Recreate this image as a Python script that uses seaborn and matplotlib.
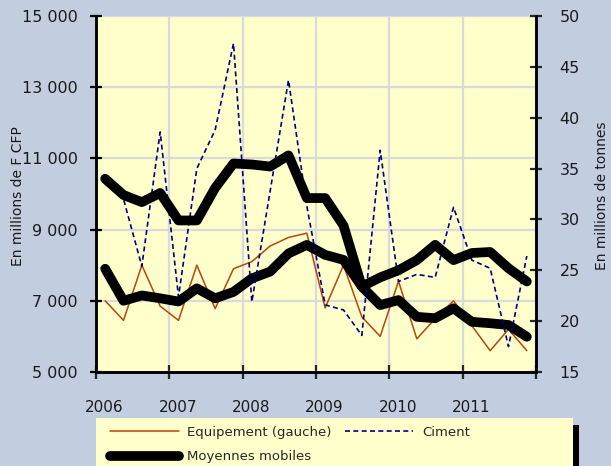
import numpy as np
import pandas as pd
import matplotlib
matplotlib.use("Agg")
import matplotlib.pyplot as plt
from matplotlib.patches import Rectangle
from matplotlib.ticker import FuncFormatter
from matplotlib.transforms import ScaledTranslation
import seaborn as sns

# quarterly points, 2006 Q1 .. 2011 Q4
quarters = [2006 + 0.125 + 0.25 * i for i in range(24)]

equipement = [7000, 6450, 8000, 6850, 6450, 8000, 6780, 7900,
              8100, 8540, 8780, 8900, 6800, 8000, 6550, 6000,
              7550, 5930, 6500, 7000, 6300, 5600, 6200, 5600]
equipement_mm = [7900, 7000, 7150, 7070, 6980, 7350, 7070, 7250,
                 7630, 7820, 8330, 8570, 8290, 8150, 7400, 6880,
                 7020, 6550, 6510, 6790, 6410, 6370, 6320, 5990]

ciment = [33.5, 32.0, 25.4, 38.6, 22.4, 35.0, 38.8, 47.3,
          21.9, 32.8, 43.7, 31.3, 21.6, 21.1, 18.6, 36.8,
          23.9, 24.6, 24.3, 31.2, 26.0, 25.2, 17.5, 26.4]
ciment_mm = [34.0, 32.4, 31.7, 32.6, 29.9, 29.9, 33.1, 35.5,
             35.4, 35.2, 36.3, 32.1, 32.1, 29.4, 23.4, 24.3,
             25.0, 26.0, 27.5, 26.0, 26.7, 26.8, 25.2, 23.9]

year_ticks = [2006, 2007, 2008, 2009, 2010, 2011, 2012]
year_labels = ["2006", "2007", "2008", "2009", "2010", "2011", ""]
left_ticks = [5000, 7000, 9000, 11000, 13000, 15000]
right_ticks = [15, 20, 25, 30, 35, 40, 45, 50]

legend_labels = ["Equipement (gauche)", "Moyennes mobiles", "Ciment"]

df = pd.DataFrame({"date": quarters, "equip": equipement, "equip_mm": equipement_mm,
                   "ciment": ciment, "ciment_mm": ciment_mm})

sns.set_style("white")
plt.rcParams["font.family"] = ["DejaVu Sans"]

BG = "#C3CDE0"
PLOT_BG = "#FFFFCC"
BROWN = "#B5460F"
NAVY = "#000080"
GRID = "#DADADA"

fig = plt.figure(figsize=(6.11, 4.66), dpi=100, facecolor=BG)
ax = fig.add_axes([96 / 611, 1 - 372 / 466, 440 / 611, 356 / 466])
ax.set_facecolor(PLOT_BG)
ax2 = ax.twinx()
ax2.patch.set_visible(False)

sns.lineplot(data=df, x="date", y="equip", ax=ax, color=BROWN, linewidth=1.1)
h_equip = ax.lines[-1]
sns.lineplot(data=df, x="date", y="equip_mm", ax=ax, color="black", linewidth=7)
h_mm = ax.lines[-1]
sns.lineplot(data=df, x="date", y="ciment", ax=ax2, color=NAVY, linewidth=1.2)
h_cim = ax2.lines[-1]
h_cim.set_dashes([3, 2])
sns.lineplot(data=df, x="date", y="ciment_mm", ax=ax2, color="black", linewidth=7)

for ln in [h_mm, ax2.lines[-1]]:
    ln.set_solid_joinstyle("round")
    ln.set_solid_capstyle("round")

ax.set_xlim(2006, 2012)
ax.set_ylim(5000, 15000)
ax2.set_ylim(15, 50)

ax.set_xticks(year_ticks)
ax.set_xticklabels(year_labels)
ax.set_yticks(left_ticks)
ax.yaxis.set_major_formatter(FuncFormatter(lambda v, p: f"{v:,.0f}".replace(",", " ")))
ax2.set_yticks(right_ticks)

ax.grid(True, color=GRID, linewidth=1.6)
ax.set_axisbelow(True)
ax.set_xlabel("")
ax.set_ylabel("")
ax2.set_ylabel("")

for a in [ax, ax2]:
    a.spines["top"].set_visible(False)
    for side in ["left", "right", "bottom"]:
        a.spines[side].set_color("black")
        a.spines[side].set_linewidth(1.8)

ax.tick_params(axis="y", direction="inout", length=8, width=1.6, labelsize=11.5,
               pad=9, colors="black", left=True, labelcolor="#1a1a1a")
ax.tick_params(axis="x", direction="inout", length=10, width=1.6, labelsize=11,
               pad=15, bottom=True, labelcolor="#1a1a1a")
ax2.tick_params(axis="y", direction="inout", length=8, width=1.6, labelsize=11.5,
                pad=13, right=True, labelcolor="#1a1a1a")

offset = ScaledTranslation(6 / 72, 0, fig.dpi_scale_trans)
for lab in ax.get_xticklabels():
    lab.set_transform(lab.get_transform() + offset)

fig.text(18.5 / 611, 1 - 196 / 466, "En millions de F CFP", rotation=90,
         ha="center", va="center", fontsize=10, color="#1a1a1a")
fig.text(602 / 611, 1 - 196 / 466, "En millions de tonnes", rotation=90,
         ha="center", va="center", fontsize=10, color="#1a1a1a")

# legend box with dark shadow on the right
fig.patches.append(Rectangle((573 / 611, 0), 6 / 611, 41 / 466, transform=fig.transFigure,
                             facecolor="black", edgecolor="none", zorder=0))
fig.patches.append(Rectangle((96 / 611, 0), 477 / 611, 48 / 466, transform=fig.transFigure,
                             facecolor=PLOT_BG, edgecolor="none", zorder=1))

fig.legend([h_equip, h_mm, h_cim], legend_labels, ncol=2, loc="upper left",
           bbox_to_anchor=(106 / 611, 1 - 422 / 466), frameon=False, fontsize=9.5,
           handlelength=5.2, handletextpad=0.65, columnspacing=1.0,
           labelspacing=0.85, borderpad=0.3, borderaxespad=0)

fig.savefig("out.png", dpi=100, facecolor=BG)
